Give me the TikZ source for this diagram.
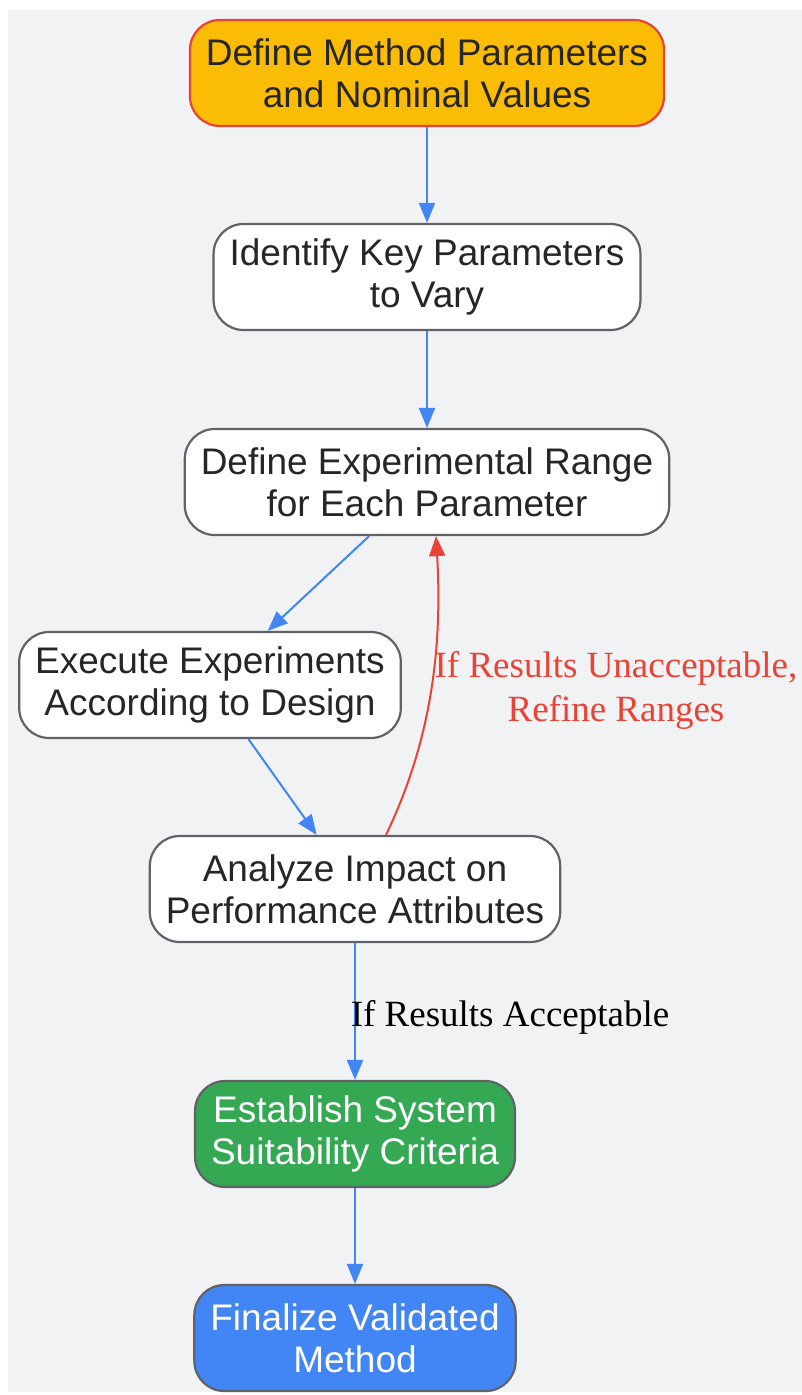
\documentclass[tikz,border=0pt]{standalone}
\usepackage{fontspec}
\setmainfont{Liberation Serif}
\setsansfont{Liberation Sans}
\usetikzlibrary{arrows.meta}
\definecolor{canvas}{HTML}{F1F2F4}
\definecolor{startfill}{HTML}{FBBC05}
\definecolor{alertred}{HTML}{EA4335}
\definecolor{okgreen}{HTML}{34A853}
\definecolor{flowblue}{HTML}{4285F4}
\definecolor{boxline}{HTML}{5F6368}
\definecolor{ink}{HTML}{262626}

\begin{document}
\begin{tikzpicture}[x = 1pt, y = -1pt,
    box/.style = {shape = rectangle, rounded corners = 30pt, draw = boxline, line width = 2.2pt,
        fill = white, text = ink, align = center, inner xsep = 16pt, minimum height = 106pt,
        font = \sffamily\fontsize{37}{42}\selectfont},
    flow/.style = {draw = flowblue, line width = 2pt, -{Triangle[length = 20pt, width = 16pt]}},
    back/.style = {draw = alertred, line width = 2pt, -{Triangle[length = 20pt, width = 16pt]}},
    cond/.style = {align = center, font = \rmfamily\fontsize{37}{44}\selectfont}]
    \useasboundingbox (0,0) rectangle (802,1395);
    \fill[canvas] (8,10) rectangle (802,1392);
    \node (define) [box, fill = startfill, draw = alertred] at (427,73) {Define Method Parameters\\and Nominal Values};
    \node (identify) [box] at (427,277) {Identify Key Parameters\\to Vary};
    \node (range) [box] at (427,482) {Define Experimental Range\\for Each Parameter};
    \node (execute) [box] at (210,685) {Execute Experiments\\According to Design};
    \node (analyze) [box] at (355,889) {Analyze Impact on\\Performance Attributes};
    \node (establish) [box, fill = okgreen, text = white] at (355,1134) {Establish System\\Suitability Criteria};
    \node (finalize) [box, fill = flowblue, text = white] at (355,1338) {Finalize Validated\\Method};
    \draw[flow] (define) -- (identify);
    \draw[flow] (identify) -- (range);
    \draw[flow] (range) -- (execute);
    \draw[flow] (execute) -- (analyze);
    \draw[back] ([xshift = 31pt]analyze.north) .. controls (434,735) and (442,640) .. ([xshift = 9pt]range.south);
    \node (refine) [cond, text = alertred] at (616,690) {If Results Unacceptable,\\Refine Ranges};
    \draw[flow] (analyze) -- (establish);
    \node (accept) [cond, text = black] at (510,1017) {If Results Acceptable};
    \draw[flow] (establish) -- (finalize);
\end{tikzpicture}
\end{document}
